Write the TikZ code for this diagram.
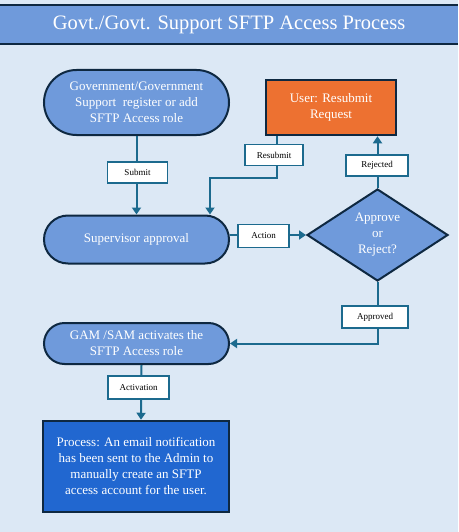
\documentclass[tikz,border=0pt]{standalone}
\usepackage{fontspec}
\setmainfont{Liberation Serif}
\usetikzlibrary{shapes.misc,shapes.geometric,arrows.meta}

\newlength{\du}
\setlength{\du}{1\unitlength}

\tikzset{
  titlebar/.style={fill=titlecolor, text=white, minimum width=458\du, minimum height=39\du, inner sep=0pt, font=\fontsize{20.5}{24}\selectfont},
  terminal/.style={rounded rectangle, draw=bordercolor, line width=2\du, fill=termcolor, text=white, minimum width=185\du, inner sep=0pt, align=center, font=\fontsize{13}{16}\selectfont},
  procbox/.style={rectangle, draw=bordercolor, line width=2.5\du, text=white, inner sep=0pt, align=center, font=\fontsize{13}{16}\selectfont},
  decision/.style={diamond, aspect=1.53, draw=bordercolor, line width=2\du, fill=termcolor, text=white, minimum width=141\du, minimum height=92\du, inner sep=0pt, align=center, font=\fontsize{13}{16}\selectfont},
  lbl/.style={draw=linecolor, line width=1.5\du, fill=white, minimum width=60\du, minimum height=21\du, inner sep=0pt, font=\fontsize{9}{10}\selectfont},
  flowline/.style={draw=linecolor, line width=2\du, -{Triangle[length=7pt,width=9pt]}}
}

\begin{document}
\begin{tikzpicture}
\pgftransformxscale{1.000000}
\pgftransformyscale{-1.000000}
\definecolor{bgcolor}{rgb}{0.863, 0.910, 0.961}
\definecolor{titlecolor}{rgb}{0.435, 0.604, 0.859}
\definecolor{termcolor}{rgb}{0.435, 0.604, 0.859}
\definecolor{bordercolor}{rgb}{0.055, 0.157, 0.255}
\definecolor{linecolor}{rgb}{0.110, 0.416, 0.557}
\definecolor{orangecolor}{rgb}{0.929, 0.443, 0.192}
\definecolor{processcolor}{rgb}{0.129, 0.404, 0.816}
\useasboundingbox (0,0) rectangle (458\du,532\du);
\fill[bgcolor] (0,0) rectangle (458\du,532\du);
% heading
\node[titlebar] (title) at (229\du,24.5\du){Govt./Govt. Support SFTP Access Process};
\draw[bordercolor, line width=2\du] (title.north west) -- (title.north east) (title.south west) -- (title.south east);
% steps
\node[terminal, minimum height=65\du] (register) at (136.5\du,102.5\du){Government/Government\\Support\ \ register or add\\SFTP Access role};
\node[procbox, fill=orangecolor, minimum width=130\du, minimum height=55\du] (resubmit) at (331\du,107.5\du){User: Resubmit\\Request};
\node[terminal, minimum height=48\du] (supervisor) at (136.5\du,239.5\du){Supervisor approval};
\node[decision] (decide) at (377.5\du,235\du){Approve\\or\\Reject?};
\node[terminal, minimum height=41\du] (activate) at (136.5\du,343.5\du){GAM /SAM activates the\\SFTP Access role};
\node[procbox, fill=processcolor, minimum width=186\du, minimum height=91\du] (notify) at (136\du,466.5\du){Process: An email notification\\has been sent to the Admin to\\manually create an SFTP\\access account for the user.};
% connectors
\coordinate (resubbend) at (210\du,178\du);
\draw[flowline] (register) -- (supervisor);
\draw[flowline] ([xshift=12\du]resubmit.south west) |- (resubbend) -- (resubbend |- supervisor.north);
\draw[flowline] (decide.north) -- (decide.north |- resubmit.south);
\draw[flowline] (supervisor.east |- decide.west) -- (decide.west);
\draw[flowline] (decide.south) |- (activate.east);
\draw[flowline] ([xshift=5\du]activate.south) -- ([xshift=5\du]notify.north);
% labels on the lines
\node[lbl] (submitlbl) at (137.5\du,172.5\du){Submit};
\node[lbl, minimum width=58\du] (resubmitlbl) at (274\du,155\du){Resubmit};
\node[lbl, minimum width=62\du] (rejectedlbl) at (377\du,165.5\du){Rejected};
\node[lbl, minimum width=51\du, minimum height=23\du] (actionlbl) at (263.5\du,236\du){Action};
\node[lbl, minimum width=66\du, minimum height=22\du] (approvedlbl) at (375\du,317\du){Approved};
\node[lbl, minimum width=61\du, minimum height=23\du] (activationlbl) at (138.5\du,387.5\du){Activation};
\end{tikzpicture}
\end{document}
